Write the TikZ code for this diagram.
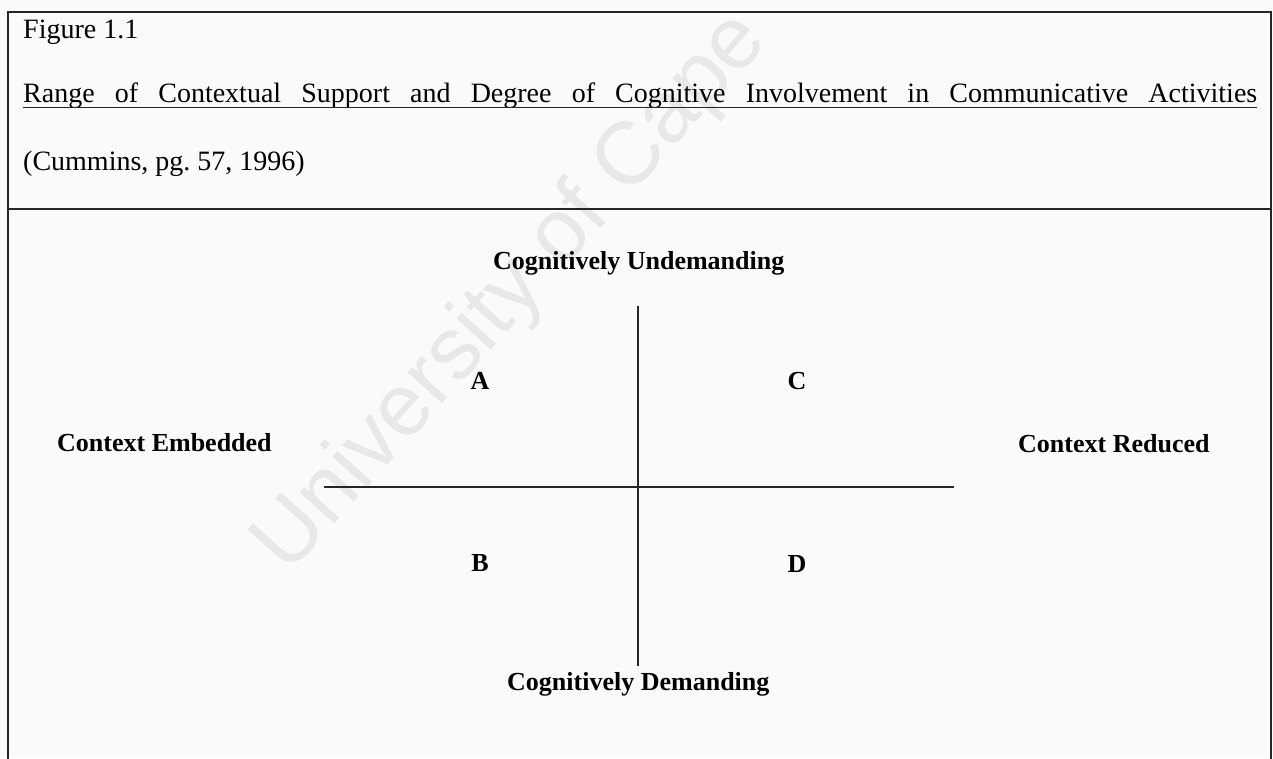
\documentclass[tikz,border=0pt]{standalone}
\usepackage{fontspec}
\setmainfont{Liberation Serif}
\newfontfamily\wmfont{Liberation Sans}
\frenchspacing
\begin{document}
\begin{tikzpicture}[x=1pt,y=-1pt,
  rule/.style={line width=1.3pt,draw=black!85},
  axis/.style={line width=1.4pt,draw=black!85},
  plain/.style={font=\fontsize{28}{32}\selectfont,inner sep=0pt,anchor=base west},
  heading/.style={font=\fontsize{26}{30}\bfseries\selectfont,inner sep=0pt,anchor=base west},
  quad/.style={font=\fontsize{26}{30}\bfseries\selectfont,inner sep=0pt,anchor=base},
  watermark/.style={font=\wmfont\fontsize{88}{92}\selectfont,text=black!9,inner sep=0pt,anchor=base west}]
  \useasboundingbox (0,0) rectangle (1273,758);
  \fill[white!98!black] (0,0) rectangle (1273,758);

  % faint diagonal watermark
  \begin{scope}
    \clip (0,0) rectangle (1273,758);
    \node[watermark, rotate=48] (mark) at (288,576) {University of Cape};
  \end{scope}

  % frame and divider
  \coordinate (tl) at (8,12);
  \coordinate (tr) at (1271,12);
  \coordinate (bl) at (8,760);
  \coordinate (br) at (1271,760);
  \coordinate (dl) at (8,209);
  \coordinate (dr) at (1271,209);
  \draw[rule] (bl) -- (tl) -- (tr) -- (br);
  \draw[rule] (dl) -- (dr);

  % caption
  \node[plain] (fig) at (23,38) {Figure 1.1};
  \node[plain] (title) at (23,102) {\makebox[1234pt][s]{Range of Contextual Support and Degree of Cognitive Involvement in Communicative Activities}};
  \draw[line width=1.2pt,black!85] ([yshift=-5.5pt]title.base west) -- ([yshift=-5.5pt]title.base east);
  \node[plain] (src) at (23,170) {(Cummins, pg. 57, 1996)};

  % quadrant axes
  \coordinate (vtop) at (638,306);
  \coordinate (vbot) at (638,666);
  \coordinate (hleft) at (324,487);
  \coordinate (hright) at (954,487);
  \draw[axis] (vtop) -- (vbot);
  \draw[axis] (hleft) -- (hright);

  % axis labels
  \node[heading] (undem) at (493,269) {Cognitively Undemanding};
  \node[heading] (dem) at (507,690) {Cognitively Demanding};
  \node[heading] (emb) at (57,451) {Context Embedded};
  \node[heading] (red) at (1018,452) {Context Reduced};

  % quadrant letters
  \node[quad] (qa) at (480,389) {A};
  \node[quad] (qc) at (797,389) {C};
  \node[quad] (qb) at (480,571) {B};
  \node[quad] (qd) at (797,572) {D};
\end{tikzpicture}
\end{document}
